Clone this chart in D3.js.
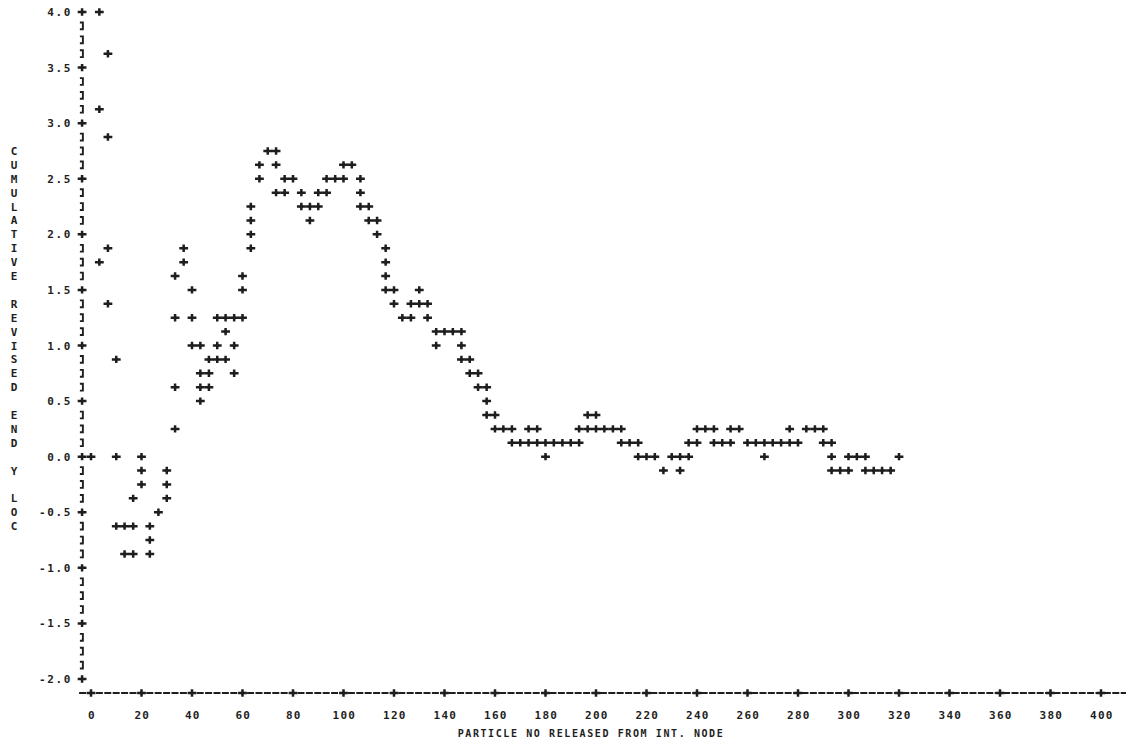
<!DOCTYPE html>
<html>
<head>
<meta charset="utf-8">
<script src="https://cdn.jsdelivr.net/npm/d3@7"></script>
<style>
	body { margin: 0; background: #fff; }
	text { font-family: "DejaVu Sans Mono", monospace; font-weight: bold; fill: #1e1e1e; }
</style>
</head>
<body>
<div id="plot"></div>
<script>
// svg container dimensions
var svgWidth = 1128,
	svgHeight = 744;

// particle number of each printer column that has points in it
var particleNo = [0, 3.3, 6.7, 10, 13.3, 16.7, 20, 23.3, 26.7, 30,
	33.3, 36.7, 40, 43.3, 46.7, 50, 53.3, 56.7, 60, 63.3,
	66.7, 70, 73.3, 76.7, 80, 83.3, 86.7, 90, 93.3, 96.7,
	100, 103.3, 106.7, 110, 113.3, 116.7, 120, 123.3, 126.7, 130,
	133.3, 136.7, 140, 143.3, 146.7, 150, 153.3, 156.7, 160, 163.3,
	166.7, 170, 173.3, 176.7, 180, 183.3, 186.7, 190, 193.3, 196.7,
	200, 203.3, 206.7, 210, 213.3, 216.7, 220, 223.3, 226.7, 230,
	233.3, 236.7, 240, 243.3, 246.7, 250, 253.3, 256.7, 260, 263.3,
	266.7, 270, 273.3, 276.7, 280, 283.3, 286.7, 290, 293.3, 296.7,
	300, 303.3, 306.7, 310, 313.3, 316.7, 320];

// cumulative revised end y loc printed in that column
var endYLoc = [
	[0], [4.0, 3.125, 1.75], [3.625, 2.875, 1.875, 1.375], [0.875, 0, -0.625], [-0.625, -0.875],
	[-0.375, -0.625, -0.875], [0, -0.125, -0.25], [-0.625, -0.75, -0.875], [-0.5], [-0.125, -0.25, -0.375],
	[1.625, 1.25, 0.625, 0.25], [1.875, 1.75], [1.5, 1.25, 1.0], [1.0, 0.75, 0.625, 0.5], [0.875, 0.75, 0.625],
	[1.25, 1.0, 0.875], [1.25, 1.125, 0.875], [1.25, 1.0, 0.75], [1.625, 1.5, 1.25], [2.25, 2.125, 2.0, 1.875],
	[2.625, 2.5], [2.75], [2.75, 2.625, 2.375], [2.5, 2.375], [2.5],
	[2.375, 2.25], [2.25, 2.125], [2.375, 2.25], [2.5, 2.375], [2.5],
	[2.625, 2.5], [2.625], [2.5, 2.375, 2.25], [2.25, 2.125], [2.125, 2.0],
	[1.875, 1.75, 1.625, 1.5], [1.5, 1.375], [1.25], [1.375, 1.25], [1.5, 1.375],
	[1.375, 1.25], [1.125, 1.0], [1.125], [1.125], [1.125, 1.0, 0.875],
	[0.875, 0.75], [0.75, 0.625], [0.625, 0.5, 0.375], [0.375, 0.25], [0.25],
	[0.25, 0.125], [0.125], [0.25, 0.125], [0.25, 0.125], [0.125, 0],
	[0.125], [0.125], [0.125], [0.25, 0.125], [0.375, 0.25],
	[0.375, 0.25], [0.25], [0.25], [0.25, 0.125], [0.125],
	[0.125, 0], [0], [0], [-0.125], [0],
	[0, -0.125], [0.125, 0], [0.25, 0.125], [0.25], [0.25, 0.125],
	[0.125], [0.25, 0.125], [0.25], [0.125], [0.125],
	[0.125, 0], [0.125], [0.125], [0.25, 0.125], [0.125],
	[0.25], [0.25], [0.25, 0.125], [0.125, 0, -0.125], [-0.125],
	[0, -0.125], [0], [0, -0.125], [-0.125], [-0.125],
	[-0.125], [0]];

// axis ticks and titles
var xTicks = d3.range(0, 401, 20),
	yTicks = d3.range(-2, 4.001, 0.5),
	yRows = d3.range(-2, 4.001, 0.125);
var xTitle = 'PARTICLE NO RELEASED FROM INT. NODE',
	yTitle = 'CUMULATIVE REVISED END Y LOC';

// flatten to one point per printed mark
var points = [];
particleNo.forEach((p, i) => {
	endYLoc[i].forEach(v => points.push({x: p, y: v}));
});

var svg = d3.select('#plot')
	.append('svg')
	.attr('width', svgWidth)
	.attr('height', svgHeight)
	.style('background', '#fff');

var xScale = d3.scaleLinear().domain([0, 400]).range([91, 1101]),
	yScale = d3.scaleLinear().domain([-2, 4]).range([679, 12]);

var ink = '#1e1e1e';
var axisX = xScale(-10 / 3) - 0.5,
	axisY = yScale(-2) + 14;

// printer style plus sign (arms plus a small blob in the middle)
function plus(g, cx, cy) {
	g.append('path')
		.attr('d', `M${cx - 4.4},${cy}H${cx + 4.4}M${cx},${cy - 3.7}V${cy + 3.7}`)
		.attr('stroke', ink)
		.attr('stroke-width', 2.5)
		.attr('fill', 'none');
	g.append('path')
		.attr('d', `M${cx - 2.4},${cy}L${cx},${cy - 2.2}L${cx + 2.4},${cy}L${cx},${cy + 2.2}Z`)
		.attr('fill', ink);
}

// y axis: column of ] with + at every half unit
var yAxis = svg.append('g');
yRows.forEach(v => {
	var yy = yScale(v);
	if (Math.abs(v * 2 - Math.round(v * 2)) < 1e-6) {
		plus(yAxis, axisX, yy);
	} else {
		yAxis.append('path')
			.attr('d', `M${axisX - 2.2},${yy - 3.4}H${axisX + 0.8}V${yy + 3.4}H${axisX - 2.2}`)
			.attr('stroke', ink)
			.attr('stroke-width', 1.9)
			.attr('fill', 'none');
	}
});
yAxis.selectAll('text.ytick')
	.data(yTicks)
	.enter()
	.append('text')
	.attr('class', 'ytick')
	.attr('x', 72)
	.attr('y', d => yScale(d) + 4)
	.attr('text-anchor', 'end')
	.style('font-size', '11px')
	.style('letter-spacing', '1.6px')
	.text(d => d.toFixed(1));

// x axis: dashed printer line with + at every 20
var xAxis = svg.append('g');
xAxis.append('line')
	.attr('x1', axisX - 3)
	.attr('x2', 1126)
	.attr('y1', axisY)
	.attr('y2', axisY)
	.attr('stroke', ink)
	.attr('stroke-width', 1.8)
	.attr('stroke-dasharray', '7,1.4');
xTicks.forEach(t => plus(xAxis, xScale(t), axisY));
xAxis.selectAll('text.xtick')
	.data(xTicks)
	.enter()
	.append('text')
	.attr('class', 'xtick')
	.attr('x', d => xScale(d) + 0.8)
	.attr('y', axisY + 26)
	.attr('text-anchor', 'middle')
	.style('font-size', '11px')
	.style('letter-spacing', '1.2px')
	.text(d => d);

// titles
svg.append('text')
	.attr('x', 591)
	.attr('y', axisY + 44)
	.attr('text-anchor', 'middle')
	.style('font-size', '10px')
	.style('letter-spacing', '1.6px')
	.text(xTitle);

svg.append('g').selectAll('text')
	.data(yTitle.split(''))
	.enter()
	.append('text')
	.attr('x', 14)
	.attr('y', (d, i) => yScale(2.75 - i * 0.125) + 4)
	.attr('text-anchor', 'middle')
	.style('font-size', '11px')
	.text(d => d);

// data marks
var marks = svg.append('g');
points.forEach(d => plus(marks, xScale(d.x), yScale(d.y)));
</script>
</body>
</html>
